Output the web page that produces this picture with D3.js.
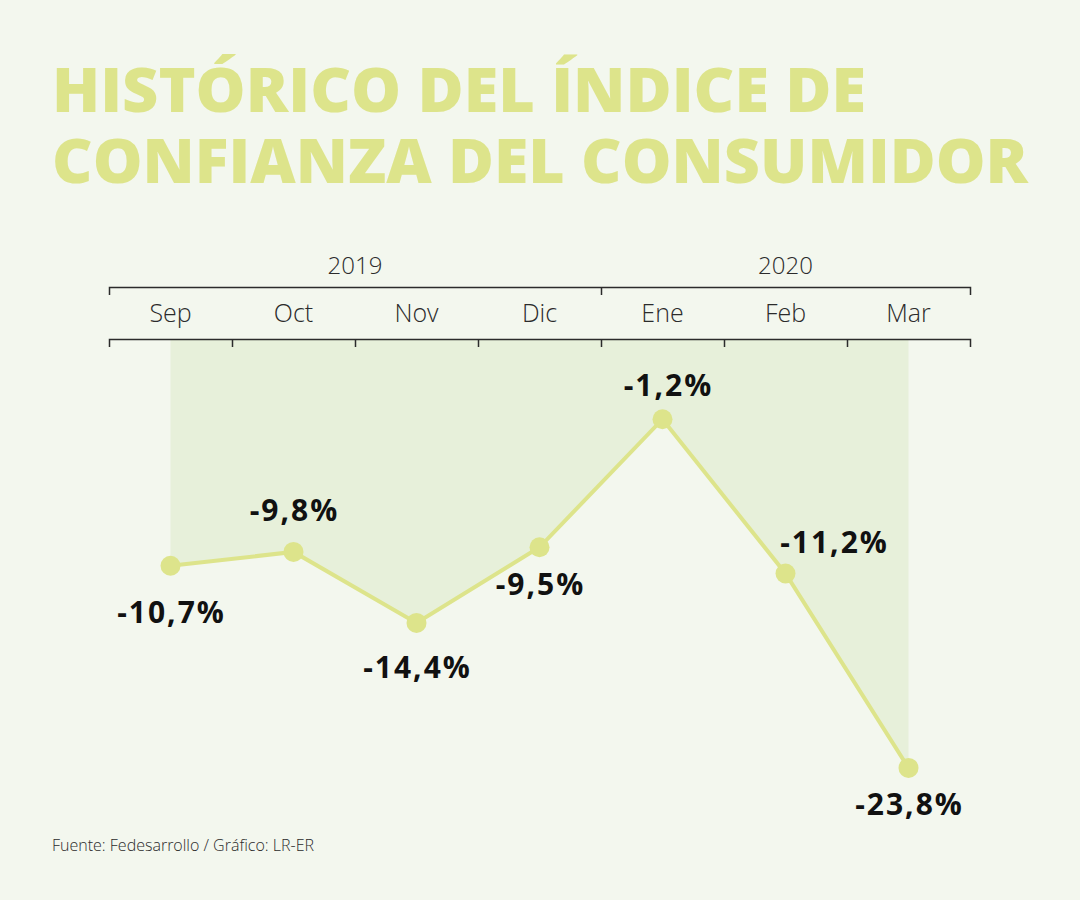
<!DOCTYPE html>
<html>
<head>
<meta charset="utf-8">
<script src="https://cdn.jsdelivr.net/npm/d3@7"></script>
<style>
  body { margin: 0; background: #f3f7ee; }
  svg { display: block; }
  text { font-family: "Open Sans", "Noto Sans", sans-serif; }
</style>
</head>
<body>
<div id="chart"></div>
<script>
"use strict";

// chart data
const months = ["Sep", "Oct", "Nov", "Dic", "Ene", "Feb", "Mar"];
const values = [-10.7, -9.8, -14.4, -9.5, -1.2, -11.2, -23.8];
const years = [
  { label: "2019", from: 0, to: 4 },
  { label: "2020", from: 4, to: 7 }
];
const titleLines = ["HISTÓRICO DEL ÍNDICE DE", "CONFIANZA DEL CONSUMIDOR"];
const source = "Fuente: Fedesarrollo / Gráfico: LR-ER";

// label placement (layout only): offset from the point
const labelOffsets = [
  { dx: 0, dy: 57 }, { dx: 0, dy: -31 }, { dx: 0, dy: 55 }, { dx: 0, dy: 48 },
  { dx: 5, dy: -23 }, { dx: 48, dy: -21 }, { dx: 0, dy: 47 }
];

const width = 1080, height = 900;
const bg = "#f3f7ee", green = "#dde48b", fillGreen = "#e7f0da", ink = "#2b2b2b";

const svg = d3.select("#chart").append("svg")
  .attr("width", width)
  .attr("height", height);

svg.append("rect").attr("width", width).attr("height", height).attr("fill", bg);

// title, one text block with a tspan per line
const titleWidths = [814, 976];
const title = svg.append("text")
  .attr("fill", green)
  .attr("font-size", 62)
  .attr("font-weight", 800);
titleLines.forEach(function(t, i) {
  title.append("tspan")
    .attr("x", 52)
    .attr("y", 112 + i * 71)
    .attr("textLength", titleWidths[i])
    .attr("lengthAdjust", "spacingAndGlyphs")
    .text(t);
});

// scales
const x = d3.scaleBand().domain(months).range([109, 970]);
const xIdx = d3.scaleLinear().domain([0, months.length]).range([109, 970]);
const y = d3.scaleLinear().domain([4, -24]).range([339, 771]);
const cx = function(m) { return x(m) + x.bandwidth() / 2; };

// area between axis and line
const area = d3.area()
  .x(function(d, i) { return cx(months[i]); })
  .y0(y(4))
  .y1(function(d) { return y(d); });

svg.append("path")
  .datum(values)
  .attr("fill", fillGreen)
  .attr("d", area);

// year axis
const yearAxis = svg.append("g")
  .attr("transform", "translate(0,287)")
  .call(d3.axisBottom(xIdx).tickValues([4]).tickSize(8).tickSizeOuter(8).tickFormat(""));

// month axis
const monthAxis = svg.append("g")
  .attr("transform", "translate(0,339)")
  .call(d3.axisBottom(xIdx).tickValues(d3.range(1, months.length)).tickSize(8).tickSizeOuter(8).tickFormat(""));

[yearAxis, monthAxis].forEach(function(g) {
  g.select(".domain").attr("stroke", ink).attr("stroke-width", 1.5);
  g.selectAll(".tick line").attr("stroke", ink).attr("stroke-width", 1.5);
});

svg.selectAll(".year")
  .data(years)
  .join("text")
  .attr("class", "year")
  .attr("x", function(d) { return (xIdx(d.from) + xIdx(d.to)) / 2; })
  .attr("y", 274)
  .attr("text-anchor", "middle")
  .attr("font-size", 24)
  .attr("font-weight", 300)
  .attr("fill", ink)
  .text(function(d) { return d.label; });

svg.selectAll(".month")
  .data(months)
  .join("text")
  .attr("class", "month")
  .attr("x", cx)
  .attr("y", 322)
  .attr("text-anchor", "middle")
  .attr("font-size", 25)
  .attr("font-weight", 300)
  .attr("fill", ink)
  .text(function(d) { return d; });

// line and points
const line = d3.line()
  .x(function(d, i) { return cx(months[i]); })
  .y(function(d) { return y(d); });

svg.append("path")
  .datum(values)
  .attr("fill", "none")
  .attr("stroke", green)
  .attr("stroke-width", 4)
  .attr("d", line);

svg.selectAll(".dot")
  .data(values)
  .join("circle")
  .attr("class", "dot")
  .attr("cx", function(d, i) { return cx(months[i]); })
  .attr("cy", function(d) { return y(d); })
  .attr("r", 10)
  .attr("fill", green);

const fmt = function(v) { return v.toFixed(1).replace(".", ",") + "%"; };

svg.selectAll(".val")
  .data(values)
  .join("text")
  .attr("class", "val")
  .attr("x", function(d, i) { return cx(months[i]) + labelOffsets[i].dx + 1; })
  .attr("y", function(d, i) { return y(d) + labelOffsets[i].dy; })
  .attr("text-anchor", "middle")
  .attr("font-size", 30)
  .attr("font-weight", 700)
  .attr("letter-spacing", 2)
  .attr("fill", "#111")
  .text(fmt);

// source
svg.append("text")
  .attr("x", 52)
  .attr("y", 851)
  .attr("font-size", 16)
  .attr("font-weight", 300)
  .attr("fill", ink)
  .text(source);
</script>
</body>
</html>
